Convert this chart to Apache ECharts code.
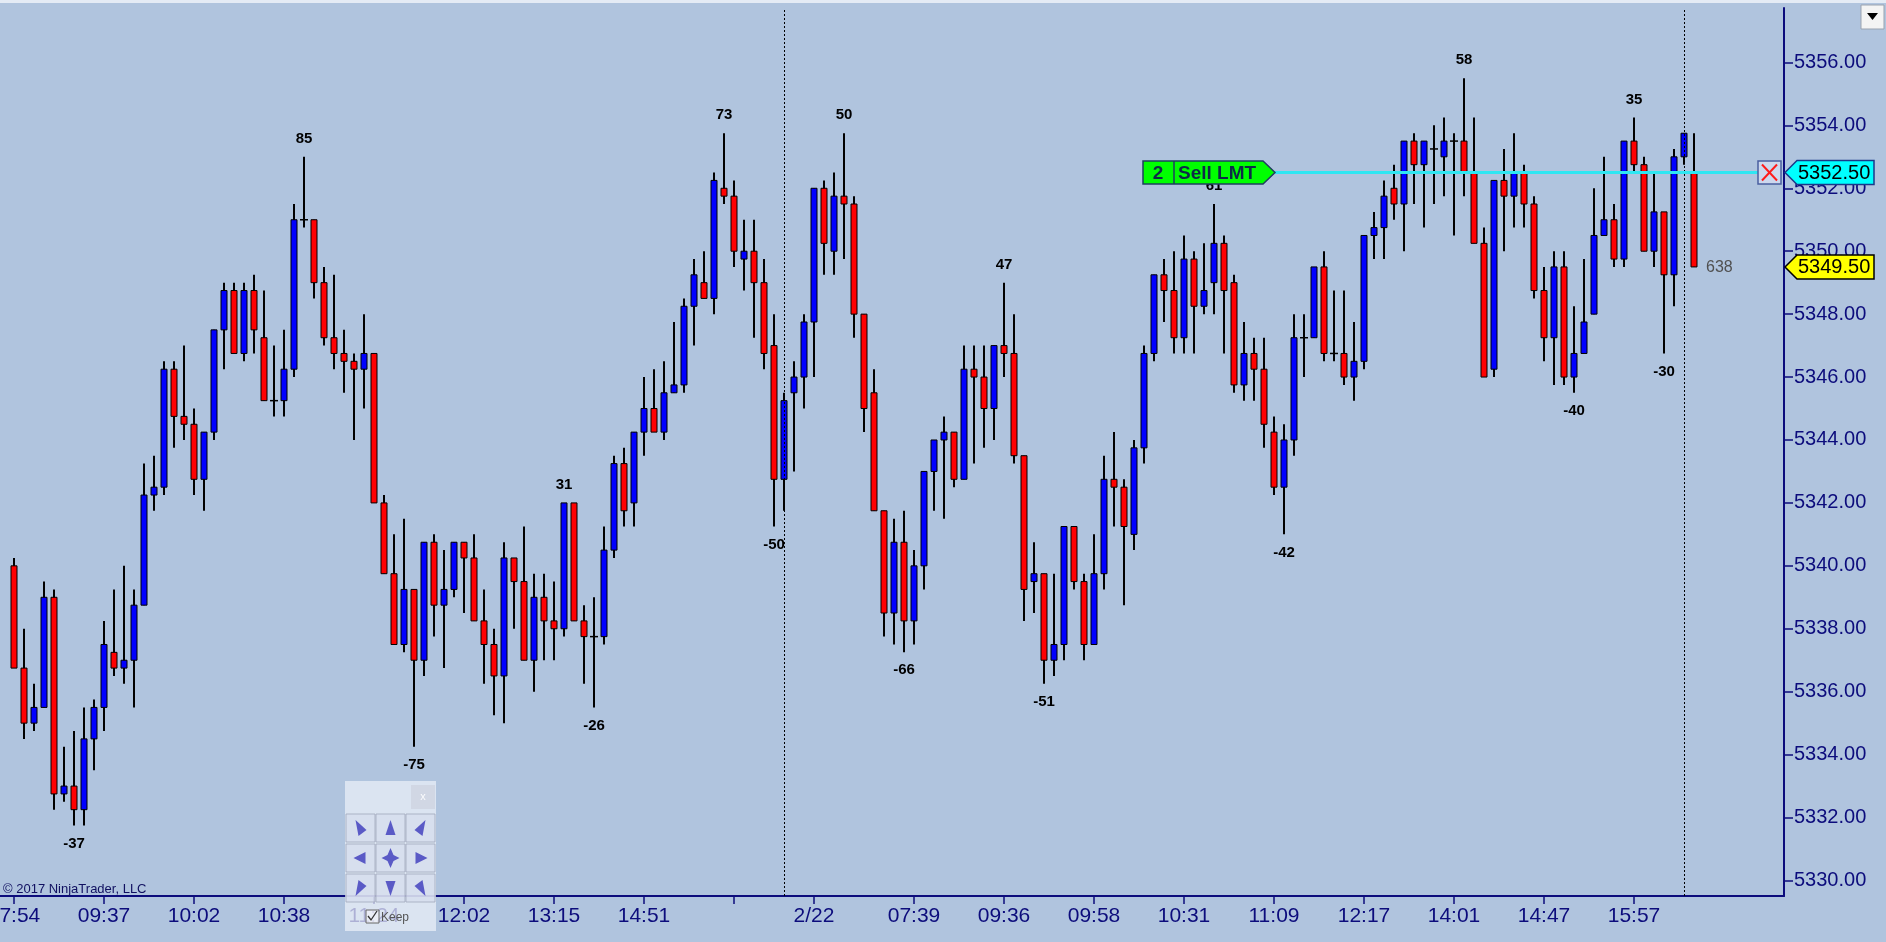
<!DOCTYPE html>
<html>
<head>
<meta charset="utf-8">
<script src="https://cdn.jsdelivr.net/npm/echarts@6.0.0/dist/echarts.min.js"></script>
<style>
html,body{margin:0;padding:0;background:#B0C4DE;overflow:hidden;}
#chart{width:1886px;height:942px;}
</style>
</head>
<body>
<div id="chart"></div>
<script>
// ---- data (1-minute ES bars) ----
const opens = [
 5340.0,5336.75,5335.0,5335.5,5339.0,5332.75,5333.0,5332.25,5334.5,5335.5,
 5337.25,5336.75,5337.0,5338.75,5342.25,5342.5,5346.25,5344.75,5344.5,5342.75,
 5344.25,5347.5,5348.75,5346.75,5348.75,5347.25,5345.25,5345.25,5346.25,5351.0,
 5351.0,5349.0,5347.25,5346.75,5346.5,5346.25,5346.75,5342.0,5339.75,5337.5,
 5339.25,5337.0,5340.75,5338.75,5339.25,5340.75,5340.25,5338.25,5337.5,5336.5,
 5340.25,5339.5,5337.0,5339.0,5338.25,5338.0,5342.0,5338.25,5337.75,5337.75,
 5340.5,5343.25,5342.0,5344.25,5345.0,5344.25,5345.5,5345.75,5348.25,5349.0,
 5348.5,5352.0,5351.75,5349.75,5350.0,5349.0,5347.0,5342.75,5345.5,5346.0,
 5347.75,5352.0,5350.0,5351.75,5351.5,5348.0,5345.5,5341.75,5338.5,5340.75,
 5338.25,5340.0,5343.0,5344.0,5344.25,5342.75,5346.25,5346.0,5345.0,5347.0,
 5346.75,5343.5,5339.5,5339.75,5337.0,5337.5,5341.25,5339.5,5337.5,5339.75,
 5342.75,5342.5,5341.0,5343.75,5346.75,5349.25,5348.75,5347.25,5349.75,5348.25,
 5349.0,5350.25,5349.0,5345.75,5346.75,5346.25,5344.25,5342.5,5344.0,5347.25,
 5347.25,5349.5,5346.75,5346.75,5346.0,5346.5,5350.5,5350.75,5352.0,5351.5,
 5353.5,5352.75,5353.25,5353.0,5353.5,5353.5,5352.5,5350.25,5346.25,5352.25,
 5351.75,5352.5,5351.5,5348.75,5347.25,5349.5,5346.0,5346.75,5348.0,5350.5,
 5351.0,5349.75,5353.5,5352.75,5350.0,5351.25,5349.25,5353.0,5352.5
];
const highs = [
 5340.25,5338.0,5336.25,5339.5,5339.25,5334.25,5334.75,5335.5,5335.75,5338.25,
 5339.25,5340.0,5339.25,5343.25,5343.5,5346.5,5346.5,5347.0,5345.0,5344.25,
 5347.5,5349.0,5349.0,5349.0,5349.25,5348.75,5347.0,5347.5,5351.5,5353.0,
 5351.0,5349.5,5349.25,5347.5,5346.75,5348.0,5346.75,5342.25,5341.0,5341.5,
 5339.25,5340.75,5341.0,5340.5,5340.75,5340.75,5341.0,5339.25,5338.0,5340.75,
 5340.25,5341.25,5339.75,5339.75,5339.5,5342.0,5342.0,5338.75,5339.0,5341.25,
 5343.5,5343.75,5344.25,5346.0,5346.25,5346.5,5347.75,5348.5,5349.75,5350.0,
 5352.5,5353.75,5352.25,5351.0,5351.0,5349.75,5348.0,5345.5,5346.5,5348.0,
 5352.0,5352.25,5352.5,5353.75,5351.75,5348.0,5346.25,5341.75,5341.5,5341.75,
 5340.5,5343.0,5344.0,5344.75,5344.25,5347.0,5347.0,5347.0,5347.0,5349.0,
 5348.0,5343.5,5340.75,5339.75,5339.75,5341.25,5341.25,5339.75,5341.0,5343.5,
 5344.25,5342.75,5344.0,5347.0,5349.25,5349.75,5350.0,5350.5,5350.0,5350.25,
 5351.5,5350.5,5349.25,5347.75,5347.25,5347.25,5344.75,5344.5,5348.0,5348.0,
 5349.5,5350.0,5348.75,5348.75,5347.75,5350.5,5351.25,5352.25,5352.75,5353.5,
 5353.75,5353.5,5354.0,5354.25,5353.75,5355.5,5354.25,5350.75,5352.25,5353.25,
 5353.75,5352.75,5351.75,5349.5,5350.0,5350.0,5348.25,5349.75,5352.0,5353.0,
 5351.5,5353.5,5354.25,5353.0,5352.5,5351.25,5353.25,5353.75,5353.75
];
const lows = [
 5336.75,5334.5,5334.75,5335.5,5332.25,5332.5,5331.75,5331.75,5333.5,5334.75,
 5336.5,5336.25,5335.5,5338.75,5341.75,5342.25,5343.75,5344.0,5342.25,5341.75,
 5344.0,5346.25,5346.75,5346.5,5346.75,5345.25,5344.75,5344.75,5346.0,5350.75,
 5348.5,5347.0,5346.25,5345.5,5344.0,5345.0,5342.0,5339.75,5337.5,5337.25,
 5334.25,5336.5,5337.75,5336.75,5339.0,5338.5,5338.25,5336.25,5335.25,5335.0,
 5338.0,5337.0,5336.0,5337.0,5337.0,5337.75,5338.25,5336.25,5335.5,5337.5,
 5340.25,5341.25,5341.25,5343.5,5344.25,5344.0,5345.5,5345.5,5347.0,5348.5,
 5348.0,5351.5,5349.5,5348.75,5347.25,5346.25,5341.25,5341.75,5343.0,5345.0,
 5346.0,5349.25,5349.25,5349.75,5347.25,5344.25,5341.75,5337.75,5337.5,5337.25,
 5337.5,5339.25,5341.75,5341.5,5342.5,5342.75,5343.25,5343.75,5344.0,5346.0,
 5343.25,5338.25,5338.5,5336.25,5336.5,5337.0,5339.25,5337.0,5337.5,5339.25,
 5341.25,5338.75,5340.5,5343.25,5346.5,5347.75,5346.75,5346.75,5346.75,5348.0,
 5348.0,5346.75,5345.5,5345.25,5345.25,5343.75,5342.25,5341.0,5343.5,5346.0,
 5347.25,5346.5,5346.5,5345.75,5345.25,5346.25,5349.75,5349.75,5351.0,5350.0,
 5351.5,5350.75,5351.5,5351.75,5350.5,5351.75,5350.25,5346.0,5346.0,5350.0,
 5350.75,5350.75,5348.5,5346.5,5345.75,5345.75,5345.5,5346.75,5348.0,5350.5,
 5349.5,5349.5,5352.5,5350.0,5349.5,5346.75,5348.25,5352.75,5349.5
];
const closes = [
 5336.75,5335.0,5335.5,5339.0,5332.75,5333.0,5332.25,5334.5,5335.5,5337.5,
 5336.75,5337.0,5338.75,5342.25,5342.5,5346.25,5344.75,5344.5,5342.75,5344.25,
 5347.5,5348.75,5346.75,5348.75,5347.5,5345.25,5345.25,5346.25,5351.0,5351.0,
 5349.0,5347.25,5346.75,5346.5,5346.25,5346.75,5342.0,5339.75,5337.5,5339.25,
 5337.0,5340.75,5338.75,5339.25,5340.75,5340.25,5338.25,5337.5,5336.5,5340.25,
 5339.5,5337.0,5339.0,5338.25,5338.0,5342.0,5338.25,5337.75,5337.75,5340.5,
 5343.25,5341.75,5344.25,5345.0,5344.25,5345.5,5345.75,5348.25,5349.25,5348.5,
 5352.25,5351.75,5350.0,5350.0,5349.0,5346.75,5342.75,5345.25,5346.0,5347.75,
 5352.0,5350.25,5351.75,5351.5,5348.0,5345.0,5341.75,5338.5,5340.75,5338.25,
 5340.0,5343.0,5344.0,5344.25,5342.75,5346.25,5346.0,5345.0,5347.0,5346.75,
 5343.5,5339.25,5339.75,5337.0,5337.5,5341.25,5339.5,5337.5,5339.75,5342.75,
 5342.5,5341.25,5343.75,5346.75,5349.25,5348.75,5347.25,5349.75,5348.25,5348.75,
 5350.25,5348.75,5345.75,5346.75,5346.25,5344.5,5342.5,5344.0,5347.25,5347.25,
 5349.5,5346.75,5346.75,5346.0,5346.5,5350.5,5350.75,5351.75,5351.5,5353.5,
 5352.75,5353.5,5353.25,5353.5,5353.5,5352.5,5350.25,5346.0,5352.25,5351.75,
 5352.5,5351.5,5348.75,5347.25,5349.5,5346.0,5346.75,5347.75,5350.5,5351.0,
 5349.75,5353.5,5352.75,5350.0,5351.25,5349.25,5353.0,5353.75,5349.5
];
const tickIndex = [0,9,18,27,36,45,54,63,72,80,90,99,108,117,126,135,144,153,162];
const tickText  = ['07:54','09:37','10:02','10:38','11:24','12:02','13:15','14:51','','2/22',
                   '07:39','09:36','09:58','10:31','11:09','12:17','14:01','14:47','15:57'];
const swingHighIdx  = [29,55,71,83,99,120,145,162];
const swingHighText = ['85','31','73','50','47','61','58','35'];
const swingLowIdx   = [6,40,58,76,89,103,127,156,165];
const swingLowText  = ['-37','-75','-26','-50','-66','-51','-42','-40','-30'];
const priceTicks = [5330,5332,5334,5336,5338,5340,5342,5344,5346,5348,5350,5352,5354,5356];
const sessionBreaks = [77,167];
const orderQty = 2;
const orderPrice = 5352.50;
const lastPrice = 5349.50;
const barsRemaining = 638;

// ---- chart ----
const FONT = "'Liberation Sans', Arial, sans-serif";
const NAVY = '#0c0c7c';
const chart = echarts.init(document.getElementById('chart'), null, {renderer:'canvas'});

const candleData = opens.map((o,i)=>[i,o,highs[i],lows[i],closes[i]]);
const labelData = swingHighIdx.map(i=>[i,highs[i],1]).concat(swingLowIdx.map(i=>[i,lows[i],-1]));
const labelText = swingHighText.concat(swingLowText);

function renderCandle(params, api){
  const i=api.value(0), o=api.value(1), h=api.value(2), l=api.value(3), c=api.value(4);
  const pH=api.coord([i,h]), pL=api.coord([i,l]), pO=api.coord([i,o]), pC=api.coord([i,c]);
  const x=Math.round(pH[0]);
  const kids=[{type:'line',shape:{x1:x,y1:pH[1],x2:x,y2:pL[1]},style:{stroke:'#000',lineWidth:2}}];
  if(o===c){
    kids.push({type:'line',shape:{x1:x-4,y1:pO[1],x2:x+4,y2:pO[1]},style:{stroke:'#000',lineWidth:1.5}});
  }else{
    const top=Math.min(pO[1],pC[1]), bot=Math.max(pO[1],pC[1]);
    kids.push({type:'rect',shape:{x:x-3,y:top,width:6,height:bot-top},
      style:{fill:c>o?'#0000ff':'#ff0000',stroke:'#000',lineWidth:1}});
  }
  return {type:'group',children:kids};
}
function renderLabel(params, api){
  const i=api.value(0), p=api.value(1), dir=api.value(2);
  const pt=api.coord([i,p]);
  return {type:'text',x:pt[0],y:pt[1]-dir*18,
    style:{text:labelText[params.dataIndex],fill:'#000',font:'bold 15px '+FONT,align:'center',verticalAlign:'middle'}};
}

chart.setOption({
  backgroundColor:'#B0C4DE',
  animation:false,
  grid:{left:0,right:102,top:8,bottom:46,containLabel:false,outerBoundsMode:'none'},
  xAxis:{type:'value',min:-1.4,max:177.0,
    axisLine:{show:true,onZero:false,lineStyle:{color:NAVY,width:2}},
    axisTick:{show:true,length:8,lineStyle:{color:NAVY,width:1.5},customValues:tickIndex},
    axisLabel:{show:true,customValues:tickIndex,margin:10,color:NAVY,fontSize:21,fontFamily:FONT,
      formatter:v=>{const k=tickIndex.indexOf(v);return k>=0?tickText[k]:'';}},
    splitLine:{show:false}},
  yAxis:{type:'value',position:'right',min:5329.506,max:5357.73,
    axisLine:{show:true,onZero:false,lineStyle:{color:NAVY,width:2}},
    axisTick:{show:true,length:9,lineStyle:{color:NAVY,width:1.5},customValues:priceTicks},
    axisLabel:{show:true,customValues:priceTicks,margin:10,color:NAVY,fontSize:20,fontFamily:FONT,
      formatter:v=>v.toFixed(2)},
    splitLine:{show:false}},
  series:[
    {type:'custom',name:'bars',renderItem:renderCandle,data:candleData,
     encode:{x:0,y:[1,2,3,4]},z:3,
     markLine:{silent:true,symbol:'none',label:{show:false},
       lineStyle:{color:'#000',type:[2,2],width:1},
       data:sessionBreaks.map(v=>({xAxis:v}))}},
    {type:'custom',name:'swings',renderItem:renderLabel,data:labelData,encode:{x:0,y:1},z:4}
  ]
});

// ---- overlay widgets positioned through the chart scales ----
const yOrder = chart.convertToPixel({gridIndex:0},[0,orderPrice])[1];
const yLast  = chart.convertToPixel({gridIndex:0},[0,lastPrice])[1];
const xLastBar = chart.convertToPixel({gridIndex:0},[closes.length-1,lastPrice])[0];
const axisX = chart.convertToPixel({gridIndex:0},[177.0,lastPrice])[0];

const g = [];
// top strip & dropdown
g.push({type:'rect',shape:{x:0,y:0,width:1886,height:3},style:{fill:'#e4ebf5'},z:50});
g.push({type:'rect',shape:{x:1861,y:5,width:23,height:24},style:{fill:'#f4f4f4',stroke:'#9aa3b0',lineWidth:1},z:50});
g.push({type:'polygon',shape:{points:[[1867,13],[1878,13],[1872.5,20]]},style:{fill:'#000'},z:51});
// order line
g.push({type:'line',shape:{x1:1275,y1:yOrder,x2:1758,y2:yOrder},style:{stroke:'#2fe6f2',lineWidth:3},z:40});
// Sell LMT tag
const th=11.5;
g.push({type:'polygon',shape:{points:[[1143,yOrder-th],[1263,yOrder-th],[1275,yOrder],[1263,yOrder+th],[1143,yOrder+th]]},
  style:{fill:'#00ff00',stroke:'#1f3f5f',lineWidth:1.5},z:60});
g.push({type:'line',shape:{x1:1174,y1:yOrder-th,x2:1174,y2:yOrder+th},style:{stroke:'#1f3f5f',lineWidth:1.5},z:61});
g.push({type:'text',x:1158,y:yOrder+1,style:{text:String(orderQty),font:'bold 19px '+FONT,fill:'#0e2a48',align:'center',verticalAlign:'middle'},z:61});
g.push({type:'text',x:1178,y:yOrder+1,style:{text:'Sell LMT',font:'bold 19px '+FONT,fill:'#0e2a48',align:'left',verticalAlign:'middle'},z:61});
// cancel box
g.push({type:'rect',shape:{x:1758,y:yOrder-th,width:23,height:23},style:{fill:'#cdd8ee',stroke:'#4a5fa0',lineWidth:1.5},z:60});
g.push({type:'line',shape:{x1:1762,y1:yOrder-8,x2:1777,y2:yOrder+8},style:{stroke:'#ff1a1a',lineWidth:2},z:61});
g.push({type:'line',shape:{x1:1777,y1:yOrder-8,x2:1762,y2:yOrder+8},style:{stroke:'#ff1a1a',lineWidth:2},z:61});
// price tags on axis
function tag(y,fill,stroke,txt){
  g.push({type:'polygon',shape:{points:[[axisX+1,y],[axisX+13,y-12],[1874,y-12],[1874,y+12],[axisX+13,y+12]]},
    style:{fill:fill,stroke:stroke,lineWidth:1.5},z:60});
  g.push({type:'text',x:axisX+14,y:y+1,style:{text:txt,font:'20px '+FONT,fill:'#000',align:'left',verticalAlign:'middle'},z:61});
}
tag(yOrder,'#00ffff','#1a3a8a',orderPrice.toFixed(2));
tag(yLast,'#ffff00','#000000',lastPrice.toFixed(2));
g.push({type:'text',x:xLastBar+12,y:yLast+1,style:{text:String(barsRemaining),font:'16px '+FONT,fill:'#505050',align:'left',verticalAlign:'middle'},z:40});
// copyright
g.push({type:'text',x:3,y:889,style:{text:'\u00a9 2017 NinjaTrader, LLC',font:'13px '+FONT,fill:'#101060',align:'left',verticalAlign:'middle'},z:40});
// navigation widget
g.push({type:'rect',shape:{x:345,y:781,width:91,height:150},style:{fill:'rgba(236,240,248,0.72)'},z:70});
g.push({type:'rect',shape:{x:411,y:785,width:24,height:24},style:{fill:'rgba(205,210,222,0.7)'},z:71});
g.push({type:'text',x:423,y:797,style:{text:'x',font:'11px '+FONT,fill:'rgba(255,255,255,0.9)',align:'center',verticalAlign:'middle'},z:72});
const colsX=[346,376,406], rowsY=[814,844,874];
const GL='#5a5ac6';
rowsY.forEach((ry,r)=>colsX.forEach((cx,c)=>{
  g.push({type:'rect',shape:{x:cx,y:ry,width:29,height:28},style:{fill:'rgba(214,220,236,0.65)',stroke:'rgba(160,168,188,0.8)',lineWidth:1},z:71});
  const mx=cx+14.5, my=ry+14;
  let pts=null;
  if(r===0&&c===1) pts=[[mx,my-8],[mx-5,my+7],[mx+5,my+7]];
  if(r===2&&c===1) pts=[[mx,my+8],[mx-5,my-7],[mx+5,my-7]];
  if(r===1&&c===0) pts=[[mx-7,my],[mx+5,my-6],[mx+5,my+6]];
  if(r===1&&c===2) pts=[[mx+7,my],[mx-5,my-6],[mx-5,my+6]];
  if(r===1&&c===1) pts=[[mx,my-10],[mx+3,my-3],[mx+9,my],[mx+3,my+3],[mx,my+10],[mx-3,my+3],[mx-9,my],[mx-3,my-3]];
  if(r===0&&c===0) pts=[[mx+6,my+2],[mx-5,my-8],[mx-2,my+8]];
  if(r===0&&c===2) pts=[[mx-6,my+2],[mx+5,my-8],[mx+2,my+8]];
  if(r===2&&c===0) pts=[[mx+6,my-2],[mx-5,my+8],[mx-2,my-8]];
  if(r===2&&c===2) pts=[[mx-6,my-2],[mx+5,my+8],[mx+2,my-8]];
  if(pts) g.push({type:'polygon',shape:{points:pts},style:{fill:GL},z:72});
}));
g.push({type:'rect',shape:{x:366,y:910,width:13,height:13},style:{fill:'rgba(245,245,250,0.6)',stroke:'#666',lineWidth:1},z:72});
g.push({type:'polyline',shape:{points:[[368,916],[371,920],[377,911]]},style:{stroke:'#333',lineWidth:1.3,fill:null},z:73});
g.push({type:'text',x:381,y:918,style:{text:'Keep',font:'12px '+FONT,fill:'#555',align:'left',verticalAlign:'middle'},z:73});

chart.setOption({graphic:g});
</script>
</body>
</html>
